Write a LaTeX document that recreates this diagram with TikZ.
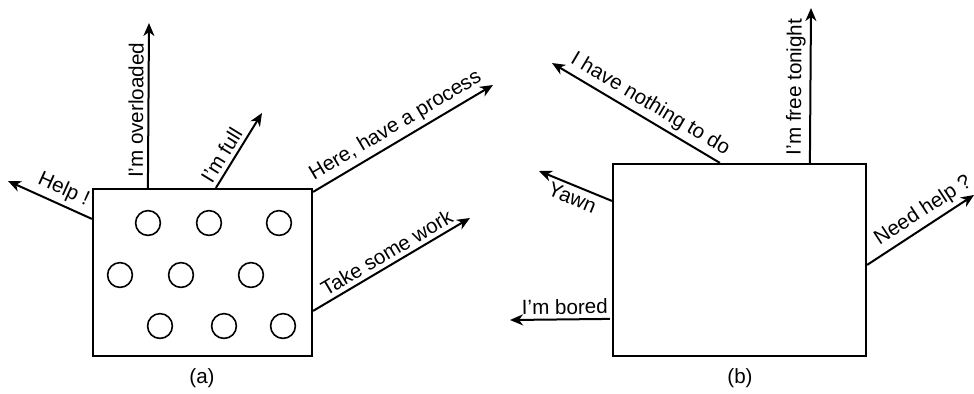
\documentclass[tikz,border=0pt]{standalone}
\usepackage{fontspec}
\setmainfont{Liberation Sans}
\usepackage{tikz}
\usetikzlibrary{arrows.meta,calc}

\begin{document}
\begin{tikzpicture}[
  x=0.5pt, y=-0.5pt,
  every node/.style={font=\fontsize{10.3}{12}\selectfont},
  box/.style={draw, line width=1.1pt, inner sep=0pt},
  proc/.style={draw, circle, line width=0.8pt, minimum size=12.4pt, inner sep=0pt},
  msg/.style={-{Stealth[length=6.5pt, width=5.5pt, inset=2pt]}, line width=1pt},
  back/.style={{Stealth[length=6.5pt, width=5.5pt, inset=2pt]}-, line width=1pt},
  tag/.style={sloped, inner sep=2pt},
  caption/.style={font=\fontsize{10.3}{12}\selectfont},
]
\useasboundingbox (0,0) rectangle (974,393);

% ================= panel (a): the overloaded machine =================
\node[box, minimum width=109.5pt, minimum height=83.5pt] (boxa) at (202.5,272.5) {};

\foreach \cx/\cy [count=\i] in {148/223, 209/223, 279/223,
                                120/275, 181/275, 251/275,
                                160/326, 224/326, 283/326}
  \node[proc] (p\i) at (\cx,\cy) {};

\coordinate (tipHelp) at (8,181);
\coordinate (tipOver) at (149,23);
\coordinate (tipFull) at (262,113);
\coordinate (tipHere) at (493,85);
\coordinate (tipTake) at (470,218);

\draw[back] (tipHelp) -- node[tag, above, pos=0.59] {Help !}
  ($(boxa.north west)+(0,31)$);
\draw[msg] ($(boxa.north west)+(56,0)$) --
  node[tag, above, pos=0.47] {I’m overloaded} (tipOver);
\draw[msg] ($(boxa.north west)+(124,0)$) --
  node[tag, above, pos=0.35] {I’m full} (tipFull);
\draw[msg] ($(boxa.north east)+(0,4)$) --
  node[tag, above, pos=0.5] {Here, have a process} (tipHere);
\draw[msg] ($(boxa.north east)+(0,123)$) --
  node[tag, above, pos=0.51] {Take some work} (tipTake);

\node[caption] (capa) at (202,378) {(a)};

% ================= panel (b): the idle machine =================
\node[box, minimum width=126.5pt, minimum height=96pt] (boxb) at (739.5,260) {};

\coordinate (tipNothing) at (552,63);
\coordinate (tipFree) at (811,8);
\coordinate (tipYawn) at (539,171);
\coordinate (tipBored) at (510,320);
\coordinate (tipNeed) at (974,195);

\draw[back] (tipNothing) -- node[tag, above, pos=0.54] {I have nothing to do}
  ($(boxb.north west)+(108,0)$);
\draw[msg] ($(boxb.north west)+(198,0)$) --
  node[tag, above, pos=0.49] {I’m free tonight} (tipFree);
\draw[back] (tipYawn) -- node[tag, below, pos=0.52] {Yawn}
  ($(boxb.north west)+(0,38)$);
\draw[back] (tipBored) -- node[tag, above, pos=0.55] {I’m bored}
  ($(boxb.north west)+(-2,156)$);
\draw[msg] ($(boxb.north east)+(0,102)$) --
  node[tag, above, pos=0.6] {Need help ?} (tipNeed);

\node[caption] (capb) at (740,378) {(b)};

\end{tikzpicture}
\end{document}
